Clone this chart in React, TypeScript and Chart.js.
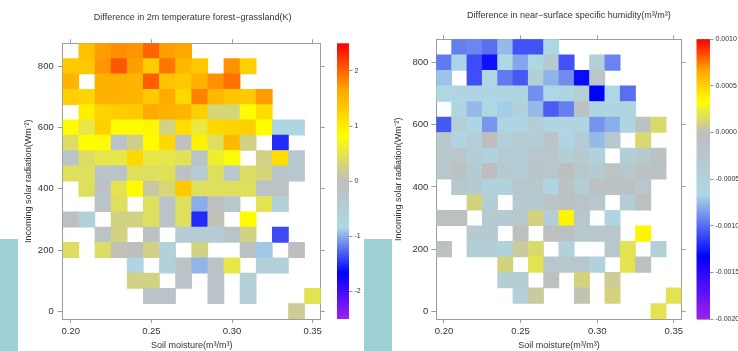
import React, { useEffect, useRef } from "react";
import { Chart, registerables } from "chart.js";

Chart.register(...registerables);
Chart.defaults.font.family = "'Liberation Sans', Arial, Helvetica, sans-serif";

// Bin centres of the two binning variables
const soilMoisture = [0.20, 0.21, 0.22, 0.23, 0.24, 0.25, 0.26, 0.27, 0.28, 0.29, 0.30, 0.31, 0.32, 0.33, 0.34, 0.35];
const solarRadiation = [850, 800, 750, 700, 650, 600, 550, 500, 450, 400, 350, 300, 250, 200, 150, 100, 50, 0];
const radiationBinHalf = 25;

// Axis tick values
const moistureTicks = [0.20, 0.25, 0.30, 0.35];
const radiationTicks = [0, 200, 400, 600, 800];
const tempBarTicks = [-2, -1, 0, 1, 2];
const humBarTicks = [-0.002, -0.0015, -0.001, -0.0005, 0, 0.0005, 0.001];

// Colour scale limits
const tempRange: [number, number] = [-2.5, 2.5];
const humRange: [number, number] = [-0.002, 0.001];

// 2 m temperature difference, forest minus grassland (K); rows follow solarRadiation
const temperatureDiff: (number | null)[][] = [
  [null, 1.42, 1.70, 1.78, 1.74, 2.00, 1.70, 1.64, null, null, null, null, null, null, null, null],
  [1.34, 1.34, 1.74, 2.06, 1.70, 1.30, 1.90, 1.49, 1.34, null, 1.77, 1.27, null, null, null, null],
  [1.53, null, 1.56, 1.56, 1.53, 2.02, 1.38, 1.34, 1.56, 1.77, 1.93, null, null, null, null, null],
  [1.27, 1.23, 1.56, 1.56, 1.53, 1.34, 1.62, 1.19, 1.85, 1.49, 1.38, 1.34, 1.71, null, null, null],
  [null, 0.99, 1.23, 1.30, 1.34, 1.62, 1.56, 1.53, 1.27, 0.30, 0.30, 0.86, 1.16, null, null, null],
  [0.86, 0.52, 1.27, 0.86, 0.86, 0.92, 0.25, 1.14, 0.55, 1.19, 1.23, 1.27, 0.86, -0.75, -0.75, null],
  [0.38, 0.86, 0.86, -0.18, 0.22, 0.86, 1.19, -0.12, 0.95, 0.42, 1.49, 0.25, null, -1.50, null, null],
  [-0.20, 0.38, 0.50, 0.52, 1.19, 0.52, 0.50, 0.45, -0.18, 0.62, 0.78, null, 0.24, 1.14, -0.35, null],
  [0.42, 0.42, -0.20, -0.20, 0.42, 0.42, 0.45, -0.10, -0.45, 0.42, -0.28, 0.38, 0.30, -0.22, -0.30, null],
  [null, 0.42, -0.12, 0.48, 0.86, 0.12, 0.32, 1.34, 0.42, 0.42, 0.42, 0.42, -0.15, -0.15, null, null],
  [null, null, -0.20, 0.42, null, 0.42, -0.20, 0.42, -1.00, -0.05, -0.25, null, 0.48, -0.55, null, null],
  [-0.05, -0.55, null, 0.25, 0.25, 0.42, -0.20, 0.42, -1.50, 0.05, null, 0.86, null, null, null, null],
  [null, null, -0.20, 0.25, null, -0.12, null, -0.45, -0.45, -0.45, -0.20, 0.25, null, -1.38, null, null],
  [0.40, null, 0.40, 0.04, 0.00, 0.25, -0.60, null, 0.25, null, null, -0.10, -0.90, null, 0.00, null],
  [null, null, null, null, -0.75, null, -0.60, -0.15, -0.97, -0.20, 0.52, null, -0.55, -0.55, null, null],
  [null, null, null, null, 0.25, 0.25, null, -0.20, null, -0.20, null, -0.55, null, null, null, null],
  [null, null, null, null, null, -0.20, -0.20, null, null, -0.20, null, -0.55, null, null, null, 0.48],
  [null, null, null, null, null, null, null, null, null, null, null, null, null, null, 0.18, null],
];

// Near-surface specific humidity difference (m3/m3); rows follow solarRadiation
const humidityDiff: (number | null)[][] = [
  [null, -0.00094, -0.00092, -0.00099, -0.00076, -0.00108, -0.00108, -0.00064, null, null, null, null, null, null, null, null],
  [-0.00096, -0.00068, -0.0011, -0.00128, -0.00065, -0.00082, -0.00064, -0.0003, -0.00108, null, -0.00043, -0.00093, null, null, null, null],
  [-0.00073, null, -0.00109, -0.00064, -0.00096, -0.00106, -0.0004, -0.00078, -0.0009, -0.0013, -0.0002, null, null, null, null, null],
  [-0.00063, -0.0006, -0.0006, -0.0006, -0.0006, -0.0006, -0.00089, -0.00065, -0.0006, -0.00045, -0.00133, -0.00065, -0.00099, null, null, null],
  [null, -0.0006, -0.00076, -0.00064, -0.0007, -0.0005, -0.00076, -0.00105, -0.00094, -0.00008, -0.0006, -0.0006, -0.00055, null, null, null],
  [-0.00106, -0.00045, -0.0006, -0.00087, -0.0006, -0.0006, -0.00042, -0.00056, -0.00056, -0.0006, -0.00088, -0.0008, -0.0006, -0.00008, 0.00014, null],
  [-0.00022, -0.0006, -0.00044, 0, -0.00044, -0.00036, -0.00036, -0.00014, -0.0006, -0.00036, -0.00076, -0.00022, null, 0.00014, null, null],
  [-0.00022, -0.00022, -0.0004, -0.0005, -0.00036, -0.0004, -0.00024, -0.00024, -0.0004, -0.0003, -0.0005, null, -0.0004, -0.0003, -0.00008, null],
  [-0.00022, -0.0001, -0.00032, 0, -0.00032, -0.0004, -0.00014, -0.00022, 0, -0.00022, -0.00032, -0.00014, -0.00022, -0.0001, -0.0001, null],
  [null, -0.00024, -0.00032, -0.0005, -0.0005, -0.00022, -0.00022, -0.0006, -0.00008, -0.0004, -0.00008, -0.00008, -0.00008, -0.00022, null, null],
  [null, null, 0.00011, -0.0004, null, -0.00032, -0.00032, -0.00014, -0.00008, -0.00014, -0.00022, null, -0.0004, -0.00004, null, null],
  [-0.00004, -0.00004, null, -0.00032, -0.00032, -0.00022, 0.00011, -0.0004, 0.00037, -0.00022, null, -0.0006, null, null, null, null],
  [null, null, -0.00032, -0.00032, null, -0.00004, null, -0.00004, -0.00004, -0.00022, -0.00022, -0.00022, null, 0.00037, null, null],
  [-0.00004, null, -0.0004, -0.0004, -0.0005, 0.00006, 0.00014, null, -0.0005, null, null, -0.00022, 0.00019, null, -0.00045, null],
  [null, null, null, null, 0.00011, null, 0.00019, -0.00022, -0.00022, -0.00022, -0.0005, null, 0.00019, -0.00004, null, null],
  [null, null, null, null, -0.0004, -0.0004, null, -0.00004, null, 0.00011, null, 0.00007, null, null, null, null],
  [null, null, null, null, null, -0.00045, 0.00006, null, null, 0.00002, null, 0.00011, null, null, null, 0.00019],
  [null, null, null, null, null, null, null, null, null, null, null, null, null, null, 0.00019, null],
];

// Diverging palette: purple-blue-lightblue-grey below zero, grey-yellow-orange-red above
const rampColors = ["#a020f0", "#0000ff", "#add8e6", "#bebebe", "#ffff00", "#ffa500", "#ff0000"];

function rampStops([lo, hi]: [number, number]) {
  return [lo, (lo * 2) / 3, lo / 3, 0, hi / 3, (hi * 2) / 3, hi];
}

function hexToRgb(h: string) {
  return [parseInt(h.slice(1, 3), 16), parseInt(h.slice(3, 5), 16), parseInt(h.slice(5, 7), 16)];
}

function colorFor(v: number, range: [number, number]) {
  const stops = rampStops(range);
  const x = Math.min(Math.max(v, stops[0]), stops[stops.length - 1]);
  let i = 0;
  while (i < stops.length - 2 && x > stops[i + 1]) i++;
  const t = (x - stops[i]) / (stops[i + 1] - stops[i]);
  const a = hexToRgb(rampColors[i]);
  const b = hexToRgb(rampColors[i + 1]);
  const c = a.map((ch, k) => Math.round(ch + (b[k] - ch) * t));
  return `rgb(${c[0]},${c[1]},${c[2]})`;
}

const FIG_W = 738;
const FIG_H = 351;
const AXIS_GREY = "#9c9c9c";
const TEXT = "#333333";

type PanelSpec = {
  left: number;
  width: number;
  title: string;
  titleDx: number;
  titleY: number;
  values: (number | null)[][];
  range: [number, number];
  barTicks: number[];
  barFmt: (v: number) => string;
  area: { left: number; right: number; top: number; bottom: number };
  cbGap: number;
  cbBar: number;
  yTickPad: number;
  yTitleX: number;
};

const panels: PanelSpec[] = [
  {
    left: 0,
    width: 369,
    title: "Difference in 2m temperature forest\u2212grassland(K)",
    titleDx: 1,
    titleY: 17.5,
    values: temperatureDiff,
    range: tempRange,
    barTicks: tempBarTicks,
    barFmt: (v) => String(v),
    area: { left: 62.7, right: 320.7, top: 43.3, bottom: 319 },
    cbGap: 16.3,
    cbBar: 12,
    yTickPad: 4,
    yTitleX: 28.5,
  },
  {
    left: 369,
    width: 369,
    title: "Difference in near\u2212surface specific humidity(m\u00b3/m\u00b3)",
    titleDx: 10,
    titleY: 15.2,
    values: humidityDiff,
    range: humRange,
    barTicks: humBarTicks,
    barFmt: (v) => v.toFixed(4),
    area: { left: 67.3, right: 312.5, top: 39.3, bottom: 319 },
    cbGap: 15,
    cbBar: 13.5,
    yTickPad: 3,
    yTitleX: 29.8,
  },
];

// Draws the colour key as a gradient strip along the "cb" scale
const colorbarPlugin = {
  id: "colorbar",
  afterDraw(chart: any, _args: any, opts: any) {
    const cb = chart.scales.cb;
    if (!cb) return;
    const ctx = chart.ctx;
    const top = cb.getPixelForValue(cb.max);
    const bottom = cb.getPixelForValue(cb.min);
    const stops = rampStops(opts.range);
    const g = ctx.createLinearGradient(0, bottom, 0, top);
    stops.forEach((v: number, i: number) => {
      g.addColorStop((v - opts.range[0]) / (opts.range[1] - opts.range[0]), rampColors[i]);
    });
    ctx.save();
    ctx.fillStyle = g;
    ctx.fillRect(cb.left, top, opts.barWidth, bottom - top);
    ctx.restore();
  },
};

// Panel heading centred over the plotting area
const panelTitlePlugin = {
  id: "panelTitle",
  afterDraw(chart: any, _args: any, opts: any) {
    const { ctx, chartArea } = chart;
    ctx.save();
    ctx.font = `${opts.size}px 'Liberation Sans', Arial, sans-serif`;
    ctx.fillStyle = TEXT;
    ctx.textAlign = "center";
    ctx.textBaseline = "middle";
    ctx.fillText(opts.text, (chartArea.left + chartArea.right) / 2 + opts.dx, opts.y);
    ctx.restore();
  },
};

function buildConfig(p: PanelSpec): any {
  const cells: { x: number; y: [number, number]; v: number }[] = [];
  p.values.forEach((row, r) =>
    row.forEach((v, c) => {
      if (v === null) return;
      cells.push({
        x: soilMoisture[c],
        y: [solarRadiation[r] - radiationBinHalf, solarRadiation[r] + radiationBinHalf],
        v,
      });
    })
  );

  const xMin = soilMoisture[0] - 0.005;
  const xMax = soilMoisture[soilMoisture.length - 1] + 0.005;
  const yMin = solarRadiation[solarRadiation.length - 1] - radiationBinHalf;
  const yMax = solarRadiation[0] + radiationBinHalf;
  const tickFont = { size: 9.5 };
  const gridBase = { drawOnChartArea: false, drawTicks: true, color: AXIS_GREY, offset: false };
  const border = { display: true, color: AXIS_GREY, width: 1 };

  return {
    type: "bar",
    data: {
      datasets: [
        {
          data: cells,
          xAxisID: "x",
          yAxisID: "y",
          borderWidth: 0,
          barPercentage: 1,
          categoryPercentage: 1,
          backgroundColor: (ctx: any) => (ctx.raw ? colorFor(ctx.raw.v, p.range) : "transparent"),
        },
      ],
    },
    options: {
      animation: false,
      responsive: false,
      devicePixelRatio: 1,
      layout: { padding: 0 },
      plugins: {
        legend: { display: false },
        tooltip: { enabled: false },
        title: { display: false },
        colorbar: { range: p.range, barWidth: p.cbBar },
        panelTitle: { text: p.title, dx: p.titleDx, y: p.titleY, size: 9 },
      },
      scales: {
        x: {
          type: "linear",
          position: "bottom",
          min: xMin,
          max: xMax,
          offset: false,
          afterBuildTicks: (s: any) => {
            s.ticks = moistureTicks.map((value) => ({ value }));
          },
          afterFit: (s: any) => {
            s.height = FIG_H - p.area.bottom;
          },
          ticks: {
            font: tickFont,
            color: TEXT,
            padding: 3,
            autoSkip: false,
            maxRotation: 0,
            callback: (v: any) => Number(v).toFixed(2),
          },
          grid: { ...gridBase, tickLength: 4 },
          border,
          title: {
            display: true,
            text: "Soil moisture(m\u00b3/m\u00b3)",
            font: { size: 9 },
            color: TEXT,
            padding: { top: 0, bottom: 0 },
          },
        },
        x2: {
          type: "linear",
          position: "top",
          min: xMin,
          max: xMax,
          offset: false,
          afterBuildTicks: (s: any) => {
            s.ticks = moistureTicks.map((value) => ({ value }));
          },
          afterFit: (s: any) => {
            s.height = p.area.top;
          },
          ticks: { display: false },
          grid: { ...gridBase, tickLength: 4 },
          border,
        },
        y: {
          type: "linear",
          position: "left",
          min: yMin,
          max: yMax,
          afterBuildTicks: (s: any) => {
            s.ticks = radiationTicks.map((value) => ({ value }));
          },
          afterFit: (s: any) => {
            s.width = p.area.left;
          },
          ticks: { font: tickFont, color: TEXT, padding: p.yTickPad, callback: (v: any) => String(v) },
          grid: { ...gridBase, tickLength: 5 },
          border,
          title: {
            display: true,
            text: "Incoming solar radiation(Wm\u207b\u00b2)",
            font: { size: 9 },
            color: TEXT,
            padding: { top: p.yTitleX - 5.4, bottom: 0 },
          },
        },
        y2: {
          type: "linear",
          position: "right",
          weight: 0,
          min: yMin,
          max: yMax,
          afterBuildTicks: (s: any) => {
            s.ticks = radiationTicks.map((value) => ({ value }));
          },
          afterFit: (s: any) => {
            s.width = p.cbGap;
          },
          ticks: { display: false },
          grid: { ...gridBase, tickLength: 4 },
          border,
        },
        cb: {
          type: "linear",
          position: "right",
          axis: "y",
          weight: 1,
          min: p.range[0],
          max: p.range[1],
          afterBuildTicks: (s: any) => {
            s.ticks = p.barTicks.map((value) => ({ value }));
          },
          afterFit: (s: any) => {
            s.width = p.width - p.area.right - p.cbGap;
          },
          ticks: { font: { size: 7 }, color: TEXT, padding: 2, callback: (v: any) => p.barFmt(Number(v)) },
          grid: { ...gridBase, tickLength: p.cbBar + 3.5 },
          border: { display: false },
        },
      },
    },
    plugins: [colorbarPlugin, panelTitlePlugin],
  };
}

function HeatPanel({ spec }: { spec: PanelSpec }) {
  const ref = useRef<HTMLCanvasElement>(null);
  useEffect(() => {
    if (!ref.current) return;
    const chart = new Chart(ref.current, buildConfig(spec));
    return () => chart.destroy();
  }, [spec]);
  return (
    <canvas
      ref={ref}
      width={spec.width}
      height={FIG_H}
      style={{ position: "absolute", left: spec.left, top: 0, width: spec.width, height: FIG_H }}
    />
  );
}

const panelBackdrop = "#9ecfd4";

export default function App() {
  return (
    <div
      style={{
        position: "fixed",
        left: 0,
        top: 0,
        width: FIG_W,
        height: FIG_H,
        overflow: "hidden",
        background: "#ffffff",
      }}
    >
      {panels.map((p, i) => (
        <HeatPanel key={i} spec={p} />
      ))}
      <div style={{ position: "absolute", left: 0, top: 239, width: 18, height: 112, background: panelBackdrop }} />
      <div style={{ position: "absolute", left: 364, top: 239, width: 28, height: 112, background: panelBackdrop }} />
    </div>
  );
}
